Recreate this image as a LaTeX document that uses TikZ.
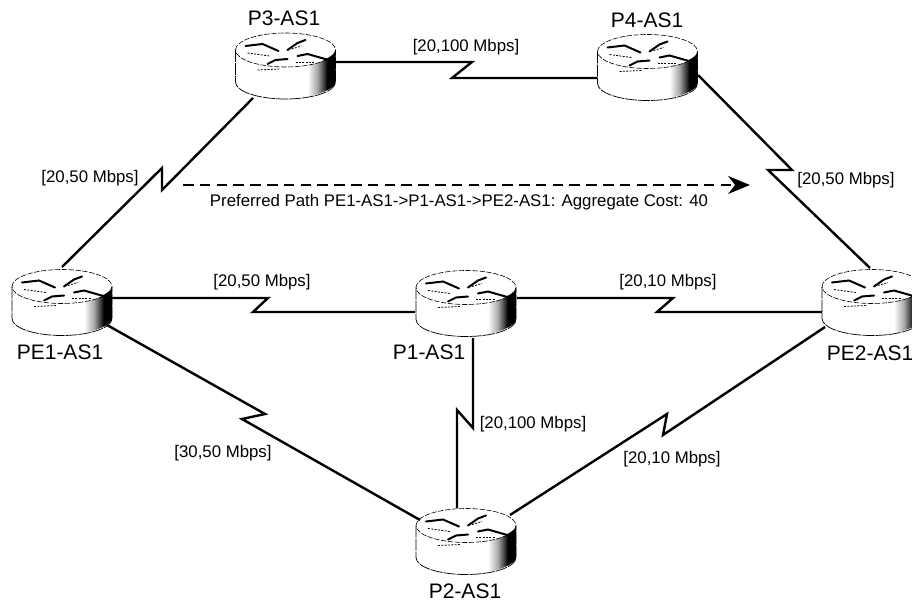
\documentclass[tikz,border=0pt]{standalone}
\usepackage{fontspec}
\setmainfont{Liberation Sans}
\usetikzlibrary{calc,arrows.meta}
\tikzset{
  rtrbox/.style={rectangle,inner sep=0pt,minimum width=75.75pt,minimum height=49.5pt},
  rtrname/.style={inner sep=0pt,font=\fontsize{15.75pt}{18pt}\selectfont},
  speed/.style={inner sep=0pt,font=\fontsize{12.6pt}{15pt}\selectfont},
  link/.style={line width=1.8pt,line join=miter,black},
  outline/.style={line width=.55pt,black,dash pattern=on 9pt off .8pt},
  topline/.style={line width=.45pt,black,dash pattern=on 4pt off 1.2pt},
  glyph/.style={line width=1.5pt,black,line cap=round},
  glyphthin/.style={line width=.6pt,black,dash pattern=on 1.5pt off 1pt}
}
\newcommand{\rtrdraw}[3]{%
  \node[rtrbox] (#1) at (#2,#3+33) {};
  \begin{scope}[shift={(#2,#3)}]
    \fill[white] (-50,17) .. controls (-50,7.6) and (-27.6,0) .. (0,0) .. controls (27.6,0) and (50,7.6) .. (50,17)
      -- (50,49) .. controls (50,58.4) and (27.6,66) .. (0,66) .. controls (-27.6,66) and (-50,58.4) .. (-50,49) -- cycle;
    \shade[left color=white,right color=black,middle color=gray!70] (22,32) .. controls (34,30) and (40,27) .. (42,25)
      -- (42,57) .. controls (36,60) and (30,62) .. (22,63.5) -- cycle;
    \fill[black] (41.5,25.5) .. controls (46,23) and (50,20) .. (50,17)
      -- (50,49) .. controls (50,52) and (46,55) .. (41.5,57.5) -- cycle;
    \draw[outline] (-50,17) -- (-50,49) .. controls (-50,58.4) and (-27.6,66) .. (0,66) .. controls (27.6,66) and (50,58.4) .. (50,49) -- (50,17);
    \draw[topline] (-50,17) .. controls (-50,7.6) and (-27.6,0) .. (0,0) .. controls (27.6,0) and (50,7.6) .. (50,17)
      .. controls (50,26.4) and (27.6,34) .. (0,34) .. controls (-27.6,34) and (-50,26.4) .. (-50,17);
    \draw[glyph] (-40,13) -- (-23,11) -- (-7,18);
    \draw[glyph] (-18,31) -- (-10,27) -- (2,26);
    \draw[glyph] (2,17) -- (12,10) -- (20,7);
    \draw[glyph] (12,23) -- (22,21) -- (43,27);
    \draw[glyphthin] (-38,20) -- (-16,23);
    \draw[glyphthin] (-28,37) -- (-6,36);
    \draw[glyphthin] (6,16) -- (16,13);
    \draw[glyphthin] (10,29) -- (30,29);
  \end{scope}
}
\begin{document}
\begin{tikzpicture}[x=.75pt,y=-.75pt]
  \clip (0,0) rectangle (912,602);
  \fill[white] (0,0) rectangle (912,602);
  \rtrdraw{p3}{285.5}{33}
  \rtrdraw{p4}{647.5}{34.5}
  \rtrdraw{pe1}{62}{269.5}
  \rtrdraw{p1}{466}{270.5}
  \rtrdraw{pe2}{872}{269.5}
  \rtrdraw{p2}{466}{508.5}

  \node[rtrname] (l3) at (284,18) {P3-AS1};
  \node[rtrname] (l4) at (647,20) {P4-AS1};
  \node[rtrname] (le1) at (60,352) {PE1-AS1};
  \node[rtrname] (l1) at (429,352) {P1-AS1};
  \node[rtrname] (le2) at (870,353) {PE2-AS1};
  \node[rtrname] (l2) at (465,591) {P2-AS1};

  \draw[link] ($(p3)+(50.5,-4)$) -- (472,62) -- (452,78) -- ($(p4)+(-50.5,10.5)$);
  \draw[link] ($(pe1)+(0,-35.5)$) -- (162,168) -- (162,190) -- ($(p3)+(-32.5,32)$);
  \draw[link] ($(pe1)+(50,-4.5)$) -- (268,298) -- (253,312) -- ($(p1)+(-51,8.5)$);
  \draw[link] ($(p1)+(51,-5.5)$) -- (673,298) -- (657,312) -- ($(pe2)+(-50,9.5)$);
  \draw[link] ($(p4)+(50.5,7.5)$) -- (792,170) -- (768,170) -- ($(pe2)+(-2,-34.5)$);
  \draw[link] ($(pe1)+(45,22.5)$) -- (265,414) -- (242,419) -- ($(p2)+(-46,-21.5)$);
  \draw[link] ($(p1)+(7,34.5)$) -- (473,428) -- (457,410) -- ($(p2)+(-9,-33.5)$);
  \draw[link] ($(pe2)+(-47,24.5)$) -- (663,435) -- (667,414) -- ($(p2)+(44,-26.5)$);

  \coordinate (pstart) at (183,185);
  \coordinate (pend) at (750,185);
  \draw[line width=1.2pt,dash pattern=on 8pt off 4.6pt,-{Stealth[length=16.5pt,width=13.5pt]}] (pstart) -- (pend);

  \node[speed] (s1) at (466,47) {[20,100 Mbps]};
  \node[speed] (s2) at (90,178) {[20,50 Mbps]};
  \node[speed] (s3) at (846,180) {[20,50 Mbps]};
  \node[speed] (s4) at (262,282) {[20,50 Mbps]};
  \node[speed] (s5) at (668,282) {[20,10 Mbps]};
  \node[speed] (s6) at (223,453) {[30,50 Mbps]};
  \node[speed] (s7) at (533,424) {[20,100 Mbps]};
  \node[speed] (s8) at (672,459) {[20,10 Mbps]};
  \node[speed] (pp) at (459,202) {Preferred Path PE1-AS1->P1-AS1->PE2-AS1: Aggregate Cost: 40};
\end{tikzpicture}
\end{document}
